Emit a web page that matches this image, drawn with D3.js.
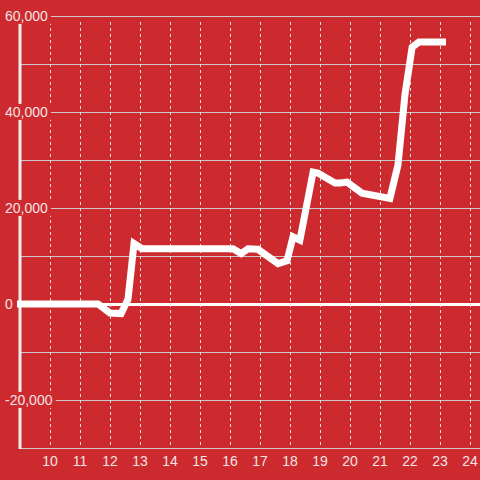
<!DOCTYPE html>
<html>
<head>
<meta charset="utf-8">
<script src="https://cdn.jsdelivr.net/npm/d3@7"></script>
<style>
  html, body { margin: 0; padding: 0; background: #cc2a2f; }
  svg { display: block; font-family: "Liberation Sans", Arial, sans-serif; }
</style>
</head>
<body>
<div id="chart"></div>
<script>
// x = hour, y = value
const xs = [8.9, 11.6, 12.0, 12.37, 12.6, 12.8, 13.07, 16.1, 16.37, 16.6, 16.93, 17.6, 17.9, 18.1, 18.33, 18.77, 18.93, 19.5, 19.67, 19.9, 20.4, 21.33, 21.6, 21.83, 22.07, 22.3, 23.2];
const ys = [0, 0, -1900, -2000, 1000, 12600, 11500, 11500, 10500, 11500, 11400, 8400, 9000, 14000, 13300, 27500, 27300, 25200, 25200, 25400, 23100, 22000, 29000, 43500, 53500, 54600, 54600];
const xTicks = [10, 11, 12, 13, 14, 15, 16, 17, 18, 19, 20, 21, 22, 23, 24];
const yGrid = [-30000, -20000, -10000, 0, 10000, 20000, 30000, 40000, 50000, 60000];
const yLabels = [-20000, 0, 20000, 40000, 60000];

const width = 480, height = 480;
const bg = '#cc2a2f';
const textColor = '#f4e4e4';

const svg = d3.select('#chart').append('svg')
  .attr('width', width)
  .attr('height', height);

svg.append('rect').attr('width', width).attr('height', height).attr('fill', bg);

const x = d3.scaleLinear().domain([9, 24]).range([20, 470]);
const y = d3.scaleLinear().domain([-30000, 60000]).range([448, 16]);

// horizontal grid
svg.append('g').selectAll('line')
  .data(yGrid)
  .enter().append('line')
  .attr('x1', x(9)).attr('x2', width)
  .attr('y1', d => y(d)).attr('y2', d => y(d))
  .attr('stroke', d => d === 0 ? '#ffffff' : '#c9c9c9')
  .attr('stroke-width', d => d === 0 ? 3 : 1)
  .attr('shape-rendering', 'crispEdges');

// vertical dashed grid
svg.append('g').selectAll('line')
  .data(xTicks)
  .enter().append('line')
  .attr('x1', d => Math.round(x(d)) + 0.5).attr('x2', d => Math.round(x(d)) + 0.5)
  .attr('y1', y(60000) + 6).attr('y2', y(-30000))
  .attr('stroke', '#e8e0e0')
  .attr('stroke-width', 1)
  .attr('stroke-dasharray', '3,3');

// y axis line
svg.append('line')
  .attr('x1', x(9)).attr('x2', x(9))
  .attr('y1', y(60000)).attr('y2', y(-30000) + 1)
  .attr('stroke', '#f0eeee')
  .attr('stroke-width', 3);

// data line
const line = d3.line()
  .x(d => x(d[0]))
  .y(d => y(d[1]));

svg.append('path')
  .datum(xs.map((v, i) => [v, ys[i]]))
  .attr('d', line)
  .attr('fill', 'none')
  .attr('stroke', '#ffffff')
  .attr('stroke-width', 7)
  .attr('stroke-linejoin', 'miter');

// x labels
svg.append('g').selectAll('text')
  .data(xTicks)
  .enter().append('text')
  .attr('x', d => x(d))
  .attr('y', 466)
  .attr('text-anchor', 'middle')
  .attr('font-size', '14px')
  .attr('fill', textColor)
  .text(d => d);

// y labels with background boxes
const fmt = d => d3.format(',')(d).replace('\u2212', '-');
const yl = svg.append('g').selectAll('g')
  .data(yLabels)
  .enter().append('g');

yl.append('rect').attr('fill', bg);
yl.append('text')
  .attr('x', 5)
  .attr('y', d => y(d))
  .attr('dy', '0.35em')
  .attr('font-size', '14px')
  .attr('fill', textColor)
  .text(fmt);

yl.each(function () {
  const g = d3.select(this);
  const b = g.select('text').node().getBBox();
  g.select('rect')
    .attr('x', b.x - 2).attr('y', b.y)
    .attr('width', b.width + 5).attr('height', b.height);
});
</script>
</body>
</html>
